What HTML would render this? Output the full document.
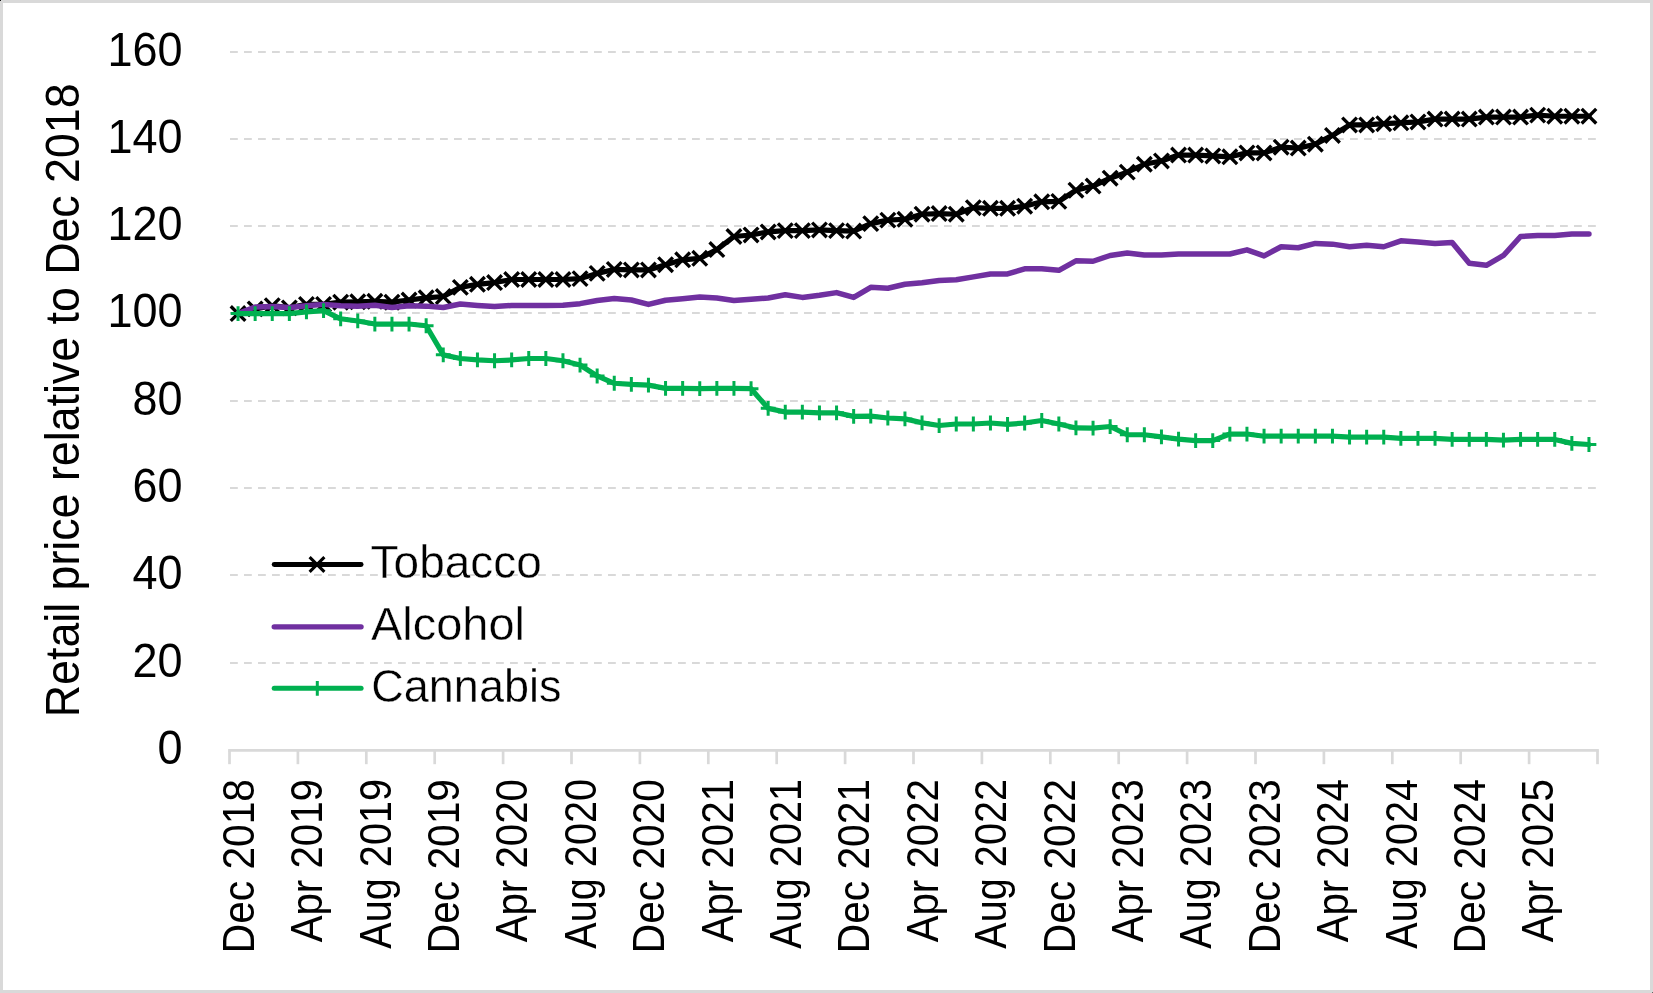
<!DOCTYPE html><html><head><meta charset="utf-8"><style>html,body{margin:0;padding:0;background:#fff}body{width:1653px;height:993px;overflow:hidden}svg{display:block;will-change:transform}text{font-family:"Liberation Sans",sans-serif;fill:#000}</style></head><body>
<svg width="1653" height="993" viewBox="0 0 1653 993">
<rect x="0" y="0" width="1653" height="993" fill="#d9d9d9"/>
<rect x="3" y="3" width="1647" height="987" fill="#fff"/>
<rect x="0" y="0" width="1" height="1" fill="#1a1a1a"/><rect x="1652" y="992" width="1" height="1" fill="#666"/>
<line x1="230" y1="52" x2="1597.5" y2="52" stroke="#d9d9d9" stroke-width="1.9" stroke-dasharray="7.8 6.2"/>
<line x1="230" y1="139.04" x2="1597.5" y2="139.04" stroke="#d9d9d9" stroke-width="1.9" stroke-dasharray="7.8 6.2"/>
<line x1="230" y1="226.04" x2="1597.5" y2="226.04" stroke="#d9d9d9" stroke-width="1.9" stroke-dasharray="7.8 6.2"/>
<line x1="230" y1="313.04" x2="1597.5" y2="313.04" stroke="#d9d9d9" stroke-width="1.9" stroke-dasharray="7.8 6.2"/>
<line x1="230" y1="401.04" x2="1597.5" y2="401.04" stroke="#d9d9d9" stroke-width="1.9" stroke-dasharray="7.8 6.2"/>
<line x1="230" y1="488.04" x2="1597.5" y2="488.04" stroke="#d9d9d9" stroke-width="1.9" stroke-dasharray="7.8 6.2"/>
<line x1="230" y1="575.04" x2="1597.5" y2="575.04" stroke="#d9d9d9" stroke-width="1.9" stroke-dasharray="7.8 6.2"/>
<line x1="230" y1="663.05" x2="1597.5" y2="663.05" stroke="#d9d9d9" stroke-width="1.9" stroke-dasharray="7.8 6.2"/>
<line x1="228.15" y1="750.4" x2="1598.85" y2="750.4" stroke="#d9d9d9" stroke-width="2.7"/>
<line x1="229.5" y1="750.4" x2="229.5" y2="764.2" stroke="#d9d9d9" stroke-width="2.7"/>
<line x1="297.9" y1="750.4" x2="297.9" y2="764.2" stroke="#d9d9d9" stroke-width="2.7"/>
<line x1="366.3" y1="750.4" x2="366.3" y2="764.2" stroke="#d9d9d9" stroke-width="2.7"/>
<line x1="434.7" y1="750.4" x2="434.7" y2="764.2" stroke="#d9d9d9" stroke-width="2.7"/>
<line x1="503.1" y1="750.4" x2="503.1" y2="764.2" stroke="#d9d9d9" stroke-width="2.7"/>
<line x1="571.5" y1="750.4" x2="571.5" y2="764.2" stroke="#d9d9d9" stroke-width="2.7"/>
<line x1="639.9" y1="750.4" x2="639.9" y2="764.2" stroke="#d9d9d9" stroke-width="2.7"/>
<line x1="708.3" y1="750.4" x2="708.3" y2="764.2" stroke="#d9d9d9" stroke-width="2.7"/>
<line x1="776.7" y1="750.4" x2="776.7" y2="764.2" stroke="#d9d9d9" stroke-width="2.7"/>
<line x1="845.1" y1="750.4" x2="845.1" y2="764.2" stroke="#d9d9d9" stroke-width="2.7"/>
<line x1="913.5" y1="750.4" x2="913.5" y2="764.2" stroke="#d9d9d9" stroke-width="2.7"/>
<line x1="981.9" y1="750.4" x2="981.9" y2="764.2" stroke="#d9d9d9" stroke-width="2.7"/>
<line x1="1050.3" y1="750.4" x2="1050.3" y2="764.2" stroke="#d9d9d9" stroke-width="2.7"/>
<line x1="1118.7" y1="750.4" x2="1118.7" y2="764.2" stroke="#d9d9d9" stroke-width="2.7"/>
<line x1="1187.1" y1="750.4" x2="1187.1" y2="764.2" stroke="#d9d9d9" stroke-width="2.7"/>
<line x1="1255.5" y1="750.4" x2="1255.5" y2="764.2" stroke="#d9d9d9" stroke-width="2.7"/>
<line x1="1323.9" y1="750.4" x2="1323.9" y2="764.2" stroke="#d9d9d9" stroke-width="2.7"/>
<line x1="1392.3" y1="750.4" x2="1392.3" y2="764.2" stroke="#d9d9d9" stroke-width="2.7"/>
<line x1="1460.7" y1="750.4" x2="1460.7" y2="764.2" stroke="#d9d9d9" stroke-width="2.7"/>
<line x1="1529.1" y1="750.4" x2="1529.1" y2="764.2" stroke="#d9d9d9" stroke-width="2.7"/>
<line x1="1597.5" y1="750.4" x2="1597.5" y2="764.2" stroke="#d9d9d9" stroke-width="2.7"/>
<text transform="translate(182.5,764) scale(1,1.05)" font-size="45" text-anchor="end">0</text>
<text transform="translate(182.5,676.65) scale(1,1.05)" font-size="45" text-anchor="end">20</text>
<text transform="translate(182.5,588.64) scale(1,1.05)" font-size="45" text-anchor="end">40</text>
<text transform="translate(182.5,501.64) scale(1,1.05)" font-size="45" text-anchor="end">60</text>
<text transform="translate(182.5,414.64) scale(1,1.05)" font-size="45" text-anchor="end">80</text>
<text transform="translate(182.5,326.64) scale(1,1.05)" font-size="45" text-anchor="end">100</text>
<text transform="translate(182.5,239.64) scale(1,1.05)" font-size="45" text-anchor="end">120</text>
<text transform="translate(182.5,152.64) scale(1,1.05)" font-size="45" text-anchor="end">140</text>
<text transform="translate(182.5,65.6) scale(1,1.05)" font-size="45" text-anchor="end">160</text>
<text transform="translate(253.85,779) rotate(-90) scale(0.925,1)" font-size="44" text-anchor="end">Dec 2018</text>
<text transform="translate(322.25,779) rotate(-90) scale(0.915,1)" font-size="44" text-anchor="end">Apr 2019</text>
<text transform="translate(390.65,779) rotate(-90) scale(0.901,1)" font-size="44" text-anchor="end">Aug 2019</text>
<text transform="translate(459.05,779) rotate(-90) scale(0.925,1)" font-size="44" text-anchor="end">Dec 2019</text>
<text transform="translate(527.45,779) rotate(-90) scale(0.915,1)" font-size="44" text-anchor="end">Apr 2020</text>
<text transform="translate(595.85,779) rotate(-90) scale(0.901,1)" font-size="44" text-anchor="end">Aug 2020</text>
<text transform="translate(664.25,779) rotate(-90) scale(0.925,1)" font-size="44" text-anchor="end">Dec 2020</text>
<text transform="translate(732.65,779) rotate(-90) scale(0.915,1)" font-size="44" text-anchor="end">Apr 2021</text>
<text transform="translate(801.05,779) rotate(-90) scale(0.901,1)" font-size="44" text-anchor="end">Aug 2021</text>
<text transform="translate(869.45,779) rotate(-90) scale(0.925,1)" font-size="44" text-anchor="end">Dec 2021</text>
<text transform="translate(937.85,779) rotate(-90) scale(0.915,1)" font-size="44" text-anchor="end">Apr 2022</text>
<text transform="translate(1006.25,779) rotate(-90) scale(0.901,1)" font-size="44" text-anchor="end">Aug 2022</text>
<text transform="translate(1074.65,779) rotate(-90) scale(0.925,1)" font-size="44" text-anchor="end">Dec 2022</text>
<text transform="translate(1143.05,779) rotate(-90) scale(0.915,1)" font-size="44" text-anchor="end">Apr 2023</text>
<text transform="translate(1211.45,779) rotate(-90) scale(0.901,1)" font-size="44" text-anchor="end">Aug 2023</text>
<text transform="translate(1279.85,779) rotate(-90) scale(0.925,1)" font-size="44" text-anchor="end">Dec 2023</text>
<text transform="translate(1348.25,779) rotate(-90) scale(0.915,1)" font-size="44" text-anchor="end">Apr 2024</text>
<text transform="translate(1416.65,779) rotate(-90) scale(0.901,1)" font-size="44" text-anchor="end">Aug 2024</text>
<text transform="translate(1485.05,779) rotate(-90) scale(0.925,1)" font-size="44" text-anchor="end">Dec 2024</text>
<text transform="translate(1553.45,779) rotate(-90) scale(0.915,1)" font-size="44" text-anchor="end">Apr 2025</text>
<text transform="translate(78.7,400.3) rotate(-90) scale(0.932,1)" font-size="48" text-anchor="middle">Retail price relative to Dec 2018</text>
<polyline points="238.05,313.55 255.15,308.88 272.25,305.69 289.35,307.87 306.45,304.38 323.55,304.38 340.65,302.2 357.75,301.76 374.85,301.33 391.95,302.2 409.05,300.02 426.15,297.83 443.25,296.52 460.35,287.36 477.45,284.3 494.55,282.55 511.65,279.5 528.75,279.5 545.85,279.5 562.95,279.5 580.05,278.63 597.15,273.39 614.25,269.46 631.35,269.9 648.45,269.9 665.55,264.66 682.65,259.85 699.75,258.33 716.85,249.6 733.95,236.5 751.05,234.97 768.15,231.92 785.25,230.61 802.35,230.61 819.45,229.95 836.55,230.61 853.65,231.04 870.75,223.62 887.85,220.13 904.95,219.26 922.05,214.23 939.15,213.58 956.25,214.23 973.35,207.69 990.45,208.34 1007.55,208.34 1024.65,206.16 1041.75,201.79 1058.85,201.36 1075.95,190.22 1093.05,186.08 1110.15,178.22 1127.25,172.11 1144.35,164.25 1161.45,160.98 1178.55,155.08 1195.65,155.08 1212.75,155.96 1229.85,156.83 1246.95,152.9 1264.05,152.9 1281.15,147.22 1298.25,148.1 1315.35,144.17 1332.45,135.44 1349.55,124.96 1366.65,124.96 1383.75,123.65 1400.85,122.78 1417.95,121.9 1435.05,119.07 1452.15,119.07 1469.25,119.07 1486.35,117.1 1503.45,117.1 1520.55,117.1 1537.65,115.14 1554.75,116.23 1571.85,116.23 1588.95,116.23" fill="none" stroke="#000" stroke-width="5.2" stroke-linejoin="round" stroke-linecap="round"/>
<path d="M230.75 306.25L245.35 320.85M245.35 306.25L230.75 320.85" stroke="#000" stroke-width="3.35" fill="none"/><path d="M247.85 301.58L262.45 316.18M262.45 301.58L247.85 316.18" stroke="#000" stroke-width="3.35" fill="none"/><path d="M264.95 298.39L279.55 312.99M279.55 298.39L264.95 312.99" stroke="#000" stroke-width="3.35" fill="none"/><path d="M282.05 300.57L296.65 315.17M296.65 300.57L282.05 315.17" stroke="#000" stroke-width="3.35" fill="none"/><path d="M299.15 297.08L313.75 311.68M313.75 297.08L299.15 311.68" stroke="#000" stroke-width="3.35" fill="none"/><path d="M316.25 297.08L330.85 311.68M330.85 297.08L316.25 311.68" stroke="#000" stroke-width="3.35" fill="none"/><path d="M333.35 294.9L347.95 309.5M347.95 294.9L333.35 309.5" stroke="#000" stroke-width="3.35" fill="none"/><path d="M350.45 294.46L365.05 309.06M365.05 294.46L350.45 309.06" stroke="#000" stroke-width="3.35" fill="none"/><path d="M367.55 294.03L382.15 308.63M382.15 294.03L367.55 308.63" stroke="#000" stroke-width="3.35" fill="none"/><path d="M384.65 294.9L399.25 309.5M399.25 294.9L384.65 309.5" stroke="#000" stroke-width="3.35" fill="none"/><path d="M401.75 292.72L416.35 307.32M416.35 292.72L401.75 307.32" stroke="#000" stroke-width="3.35" fill="none"/><path d="M418.85 290.53L433.45 305.13M433.45 290.53L418.85 305.13" stroke="#000" stroke-width="3.35" fill="none"/><path d="M435.95 289.22L450.55 303.82M450.55 289.22L435.95 303.82" stroke="#000" stroke-width="3.35" fill="none"/><path d="M453.05 280.06L467.65 294.66M467.65 280.06L453.05 294.66" stroke="#000" stroke-width="3.35" fill="none"/><path d="M470.15 277L484.75 291.6M484.75 277L470.15 291.6" stroke="#000" stroke-width="3.35" fill="none"/><path d="M487.25 275.25L501.85 289.85M501.85 275.25L487.25 289.85" stroke="#000" stroke-width="3.35" fill="none"/><path d="M504.35 272.2L518.95 286.8M518.95 272.2L504.35 286.8" stroke="#000" stroke-width="3.35" fill="none"/><path d="M521.45 272.2L536.05 286.8M536.05 272.2L521.45 286.8" stroke="#000" stroke-width="3.35" fill="none"/><path d="M538.55 272.2L553.15 286.8M553.15 272.2L538.55 286.8" stroke="#000" stroke-width="3.35" fill="none"/><path d="M555.65 272.2L570.25 286.8M570.25 272.2L555.65 286.8" stroke="#000" stroke-width="3.35" fill="none"/><path d="M572.75 271.33L587.35 285.93M587.35 271.33L572.75 285.93" stroke="#000" stroke-width="3.35" fill="none"/><path d="M589.85 266.09L604.45 280.69M604.45 266.09L589.85 280.69" stroke="#000" stroke-width="3.35" fill="none"/><path d="M606.95 262.16L621.55 276.76M621.55 262.16L606.95 276.76" stroke="#000" stroke-width="3.35" fill="none"/><path d="M624.05 262.6L638.65 277.2M638.65 262.6L624.05 277.2" stroke="#000" stroke-width="3.35" fill="none"/><path d="M641.15 262.6L655.75 277.2M655.75 262.6L641.15 277.2" stroke="#000" stroke-width="3.35" fill="none"/><path d="M658.25 257.36L672.85 271.96M672.85 257.36L658.25 271.96" stroke="#000" stroke-width="3.35" fill="none"/><path d="M675.35 252.55L689.95 267.15M689.95 252.55L675.35 267.15" stroke="#000" stroke-width="3.35" fill="none"/><path d="M692.45 251.03L707.05 265.63M707.05 251.03L692.45 265.63" stroke="#000" stroke-width="3.35" fill="none"/><path d="M709.55 242.3L724.15 256.9M724.15 242.3L709.55 256.9" stroke="#000" stroke-width="3.35" fill="none"/><path d="M726.65 229.2L741.25 243.8M741.25 229.2L726.65 243.8" stroke="#000" stroke-width="3.35" fill="none"/><path d="M743.75 227.67L758.35 242.27M758.35 227.67L743.75 242.27" stroke="#000" stroke-width="3.35" fill="none"/><path d="M760.85 224.62L775.45 239.22M775.45 224.62L760.85 239.22" stroke="#000" stroke-width="3.35" fill="none"/><path d="M777.95 223.31L792.55 237.91M792.55 223.31L777.95 237.91" stroke="#000" stroke-width="3.35" fill="none"/><path d="M795.05 223.31L809.65 237.91M809.65 223.31L795.05 237.91" stroke="#000" stroke-width="3.35" fill="none"/><path d="M812.15 222.65L826.75 237.25M826.75 222.65L812.15 237.25" stroke="#000" stroke-width="3.35" fill="none"/><path d="M829.25 223.31L843.85 237.91M843.85 223.31L829.25 237.91" stroke="#000" stroke-width="3.35" fill="none"/><path d="M846.35 223.74L860.95 238.34M860.95 223.74L846.35 238.34" stroke="#000" stroke-width="3.35" fill="none"/><path d="M863.45 216.32L878.05 230.92M878.05 216.32L863.45 230.92" stroke="#000" stroke-width="3.35" fill="none"/><path d="M880.55 212.83L895.15 227.43M895.15 212.83L880.55 227.43" stroke="#000" stroke-width="3.35" fill="none"/><path d="M897.65 211.96L912.25 226.56M912.25 211.96L897.65 226.56" stroke="#000" stroke-width="3.35" fill="none"/><path d="M914.75 206.93L929.35 221.53M929.35 206.93L914.75 221.53" stroke="#000" stroke-width="3.35" fill="none"/><path d="M931.85 206.28L946.45 220.88M946.45 206.28L931.85 220.88" stroke="#000" stroke-width="3.35" fill="none"/><path d="M948.95 206.93L963.55 221.53M963.55 206.93L948.95 221.53" stroke="#000" stroke-width="3.35" fill="none"/><path d="M966.05 200.39L980.65 214.99M980.65 200.39L966.05 214.99" stroke="#000" stroke-width="3.35" fill="none"/><path d="M983.15 201.04L997.75 215.64M997.75 201.04L983.15 215.64" stroke="#000" stroke-width="3.35" fill="none"/><path d="M1000.25 201.04L1014.85 215.64M1014.85 201.04L1000.25 215.64" stroke="#000" stroke-width="3.35" fill="none"/><path d="M1017.35 198.86L1031.95 213.46M1031.95 198.86L1017.35 213.46" stroke="#000" stroke-width="3.35" fill="none"/><path d="M1034.45 194.49L1049.05 209.09M1049.05 194.49L1034.45 209.09" stroke="#000" stroke-width="3.35" fill="none"/><path d="M1051.55 194.06L1066.15 208.66M1066.15 194.06L1051.55 208.66" stroke="#000" stroke-width="3.35" fill="none"/><path d="M1068.65 182.92L1083.25 197.52M1083.25 182.92L1068.65 197.52" stroke="#000" stroke-width="3.35" fill="none"/><path d="M1085.75 178.78L1100.35 193.38M1100.35 178.78L1085.75 193.38" stroke="#000" stroke-width="3.35" fill="none"/><path d="M1102.85 170.92L1117.45 185.52M1117.45 170.92L1102.85 185.52" stroke="#000" stroke-width="3.35" fill="none"/><path d="M1119.95 164.81L1134.55 179.41M1134.55 164.81L1119.95 179.41" stroke="#000" stroke-width="3.35" fill="none"/><path d="M1137.05 156.95L1151.65 171.55M1151.65 156.95L1137.05 171.55" stroke="#000" stroke-width="3.35" fill="none"/><path d="M1154.15 153.68L1168.75 168.28M1168.75 153.68L1154.15 168.28" stroke="#000" stroke-width="3.35" fill="none"/><path d="M1171.25 147.78L1185.85 162.38M1185.85 147.78L1171.25 162.38" stroke="#000" stroke-width="3.35" fill="none"/><path d="M1188.35 147.78L1202.95 162.38M1202.95 147.78L1188.35 162.38" stroke="#000" stroke-width="3.35" fill="none"/><path d="M1205.45 148.66L1220.05 163.26M1220.05 148.66L1205.45 163.26" stroke="#000" stroke-width="3.35" fill="none"/><path d="M1222.55 149.53L1237.15 164.13M1237.15 149.53L1222.55 164.13" stroke="#000" stroke-width="3.35" fill="none"/><path d="M1239.65 145.6L1254.25 160.2M1254.25 145.6L1239.65 160.2" stroke="#000" stroke-width="3.35" fill="none"/><path d="M1256.75 145.6L1271.35 160.2M1271.35 145.6L1256.75 160.2" stroke="#000" stroke-width="3.35" fill="none"/><path d="M1273.85 139.92L1288.45 154.52M1288.45 139.92L1273.85 154.52" stroke="#000" stroke-width="3.35" fill="none"/><path d="M1290.95 140.8L1305.55 155.4M1305.55 140.8L1290.95 155.4" stroke="#000" stroke-width="3.35" fill="none"/><path d="M1308.05 136.87L1322.65 151.47M1322.65 136.87L1308.05 151.47" stroke="#000" stroke-width="3.35" fill="none"/><path d="M1325.15 128.14L1339.75 142.74M1339.75 128.14L1325.15 142.74" stroke="#000" stroke-width="3.35" fill="none"/><path d="M1342.25 117.66L1356.85 132.26M1356.85 117.66L1342.25 132.26" stroke="#000" stroke-width="3.35" fill="none"/><path d="M1359.35 117.66L1373.95 132.26M1373.95 117.66L1359.35 132.26" stroke="#000" stroke-width="3.35" fill="none"/><path d="M1376.45 116.35L1391.05 130.95M1391.05 116.35L1376.45 130.95" stroke="#000" stroke-width="3.35" fill="none"/><path d="M1393.55 115.48L1408.15 130.08M1408.15 115.48L1393.55 130.08" stroke="#000" stroke-width="3.35" fill="none"/><path d="M1410.65 114.6L1425.25 129.2M1425.25 114.6L1410.65 129.2" stroke="#000" stroke-width="3.35" fill="none"/><path d="M1427.75 111.77L1442.35 126.37M1442.35 111.77L1427.75 126.37" stroke="#000" stroke-width="3.35" fill="none"/><path d="M1444.85 111.77L1459.45 126.37M1459.45 111.77L1444.85 126.37" stroke="#000" stroke-width="3.35" fill="none"/><path d="M1461.95 111.77L1476.55 126.37M1476.55 111.77L1461.95 126.37" stroke="#000" stroke-width="3.35" fill="none"/><path d="M1479.05 109.8L1493.65 124.4M1493.65 109.8L1479.05 124.4" stroke="#000" stroke-width="3.35" fill="none"/><path d="M1496.15 109.8L1510.75 124.4M1510.75 109.8L1496.15 124.4" stroke="#000" stroke-width="3.35" fill="none"/><path d="M1513.25 109.8L1527.85 124.4M1527.85 109.8L1513.25 124.4" stroke="#000" stroke-width="3.35" fill="none"/><path d="M1530.35 107.84L1544.95 122.44M1544.95 107.84L1530.35 122.44" stroke="#000" stroke-width="3.35" fill="none"/><path d="M1547.45 108.93L1562.05 123.53M1562.05 108.93L1547.45 123.53" stroke="#000" stroke-width="3.35" fill="none"/><path d="M1564.55 108.93L1579.15 123.53M1579.15 108.93L1564.55 123.53" stroke="#000" stroke-width="3.35" fill="none"/><path d="M1581.65 108.93L1596.25 123.53M1596.25 108.93L1581.65 123.53" stroke="#000" stroke-width="3.35" fill="none"/>
<polyline points="238.05,313.55 255.15,307 272.25,306.57 289.35,307.44 306.45,305.69 323.55,304.38 340.65,305.69 357.75,306.13 374.85,305.26 391.95,307.44 409.05,305.69 426.15,306.13 443.25,307.44 460.35,303.95 477.45,305.43 494.55,306.57 511.65,305.43 528.75,305.43 545.85,305.43 562.95,305.26 580.05,303.64 597.15,300.45 614.25,298.53 631.35,300.02 648.45,304.38 665.55,300.24 682.65,298.71 699.75,296.96 716.85,298.01 733.95,300.45 751.05,299.14 768.15,298.01 785.25,294.78 802.35,297.4 819.45,295.21 836.55,292.6 853.65,297.4 870.75,287.36 887.85,288.23 904.95,284.3 922.05,282.69 939.15,280.5 956.25,279.8 973.35,276.88 990.45,273.95 1007.55,273.95 1024.65,268.85 1041.75,268.85 1058.85,270.33 1075.95,260.86 1093.05,261.25 1110.15,255.49 1127.25,253.09 1144.35,255.05 1161.45,255.05 1178.55,254 1195.65,254 1212.75,254 1229.85,254 1246.95,249.81 1264.05,255.93 1281.15,246.76 1298.25,247.76 1315.35,243.4 1332.45,244.14 1349.55,246.76 1366.65,245.19 1383.75,246.76 1400.85,240.86 1417.95,241.96 1435.05,243.57 1452.15,242.39 1469.25,263.35 1486.35,265.31 1503.45,255.49 1520.55,236.5 1537.65,235.41 1554.75,235.41 1571.85,234.1 1588.95,234.1" fill="none" stroke="#7030a0" stroke-width="5.5" stroke-linejoin="round" stroke-linecap="round"/>
<polyline points="238.05,313.55 255.15,313.55 272.25,313.55 289.35,313.55 306.45,311.8 323.55,310.63 340.65,318.79 357.75,320.97 374.85,324.03 391.95,324.03 409.05,324.03 426.15,325.77 443.25,354.85 460.35,358.51 477.45,359.96 494.55,360.74 511.65,359.96 528.75,358.51 545.85,358.51 562.95,360.74 580.05,365.06 597.15,375.98 614.25,383.27 631.35,384.4 648.45,385.14 665.55,388.33 682.65,388.33 699.75,388.72 716.85,388.33 733.95,388.33 751.05,388.72 768.15,408.37 785.25,412.08 802.35,412.08 819.45,412.78 836.55,412.78 853.65,416.4 870.75,416.14 887.85,418.02 904.95,418.89 922.05,422.82 939.15,425.53 956.25,424 973.35,424 990.45,422.99 1007.55,424.43 1024.65,422.99 1041.75,420.5 1058.85,424 1075.95,427.93 1093.05,428.14 1110.15,426.53 1127.25,434.74 1144.35,434.74 1161.45,436.92 1178.55,439.15 1195.65,440.59 1212.75,440.59 1229.85,434.04 1246.95,434.04 1264.05,436.22 1281.15,436.22 1298.25,436.22 1315.35,436.22 1332.45,436.22 1349.55,437.09 1366.65,437.09 1383.75,437.09 1400.85,438.4 1417.95,438.4 1435.05,438.4 1452.15,439.45 1469.25,439.45 1486.35,439.45 1503.45,440.15 1520.55,439.41 1537.65,439.41 1554.75,439.41 1571.85,443.38 1588.95,444.52" fill="none" stroke="#00b050" stroke-width="5.2" stroke-linejoin="round" stroke-linecap="round"/>
<path d="M230.65 313.55L245.45 313.55M238.05 306.15L238.05 320.95" stroke="#00b050" stroke-width="3" fill="none"/><path d="M247.75 313.55L262.55 313.55M255.15 306.15L255.15 320.95" stroke="#00b050" stroke-width="3" fill="none"/><path d="M264.85 313.55L279.65 313.55M272.25 306.15L272.25 320.95" stroke="#00b050" stroke-width="3" fill="none"/><path d="M281.95 313.55L296.75 313.55M289.35 306.15L289.35 320.95" stroke="#00b050" stroke-width="3" fill="none"/><path d="M299.05 311.8L313.85 311.8M306.45 304.4L306.45 319.2" stroke="#00b050" stroke-width="3" fill="none"/><path d="M316.15 310.63L330.95 310.63M323.55 303.23L323.55 318.03" stroke="#00b050" stroke-width="3" fill="none"/><path d="M333.25 318.79L348.05 318.79M340.65 311.39L340.65 326.19" stroke="#00b050" stroke-width="3" fill="none"/><path d="M350.35 320.97L365.15 320.97M357.75 313.57L357.75 328.37" stroke="#00b050" stroke-width="3" fill="none"/><path d="M367.45 324.03L382.25 324.03M374.85 316.63L374.85 331.43" stroke="#00b050" stroke-width="3" fill="none"/><path d="M384.55 324.03L399.35 324.03M391.95 316.63L391.95 331.43" stroke="#00b050" stroke-width="3" fill="none"/><path d="M401.65 324.03L416.45 324.03M409.05 316.63L409.05 331.43" stroke="#00b050" stroke-width="3" fill="none"/><path d="M418.75 325.77L433.55 325.77M426.15 318.37L426.15 333.17" stroke="#00b050" stroke-width="3" fill="none"/><path d="M435.85 354.85L450.65 354.85M443.25 347.45L443.25 362.25" stroke="#00b050" stroke-width="3" fill="none"/><path d="M452.95 358.51L467.75 358.51M460.35 351.11L460.35 365.91" stroke="#00b050" stroke-width="3" fill="none"/><path d="M470.05 359.96L484.85 359.96M477.45 352.56L477.45 367.36" stroke="#00b050" stroke-width="3" fill="none"/><path d="M487.15 360.74L501.95 360.74M494.55 353.34L494.55 368.14" stroke="#00b050" stroke-width="3" fill="none"/><path d="M504.25 359.96L519.05 359.96M511.65 352.56L511.65 367.36" stroke="#00b050" stroke-width="3" fill="none"/><path d="M521.35 358.51L536.15 358.51M528.75 351.11L528.75 365.91" stroke="#00b050" stroke-width="3" fill="none"/><path d="M538.45 358.51L553.25 358.51M545.85 351.11L545.85 365.91" stroke="#00b050" stroke-width="3" fill="none"/><path d="M555.55 360.74L570.35 360.74M562.95 353.34L562.95 368.14" stroke="#00b050" stroke-width="3" fill="none"/><path d="M572.65 365.06L587.45 365.06M580.05 357.66L580.05 372.46" stroke="#00b050" stroke-width="3" fill="none"/><path d="M589.75 375.98L604.55 375.98M597.15 368.58L597.15 383.38" stroke="#00b050" stroke-width="3" fill="none"/><path d="M606.85 383.27L621.65 383.27M614.25 375.87L614.25 390.67" stroke="#00b050" stroke-width="3" fill="none"/><path d="M623.95 384.4L638.75 384.4M631.35 377L631.35 391.8" stroke="#00b050" stroke-width="3" fill="none"/><path d="M641.05 385.14L655.85 385.14M648.45 377.74L648.45 392.54" stroke="#00b050" stroke-width="3" fill="none"/><path d="M658.15 388.33L672.95 388.33M665.55 380.93L665.55 395.73" stroke="#00b050" stroke-width="3" fill="none"/><path d="M675.25 388.33L690.05 388.33M682.65 380.93L682.65 395.73" stroke="#00b050" stroke-width="3" fill="none"/><path d="M692.35 388.72L707.15 388.72M699.75 381.32L699.75 396.12" stroke="#00b050" stroke-width="3" fill="none"/><path d="M709.45 388.33L724.25 388.33M716.85 380.93L716.85 395.73" stroke="#00b050" stroke-width="3" fill="none"/><path d="M726.55 388.33L741.35 388.33M733.95 380.93L733.95 395.73" stroke="#00b050" stroke-width="3" fill="none"/><path d="M743.65 388.72L758.45 388.72M751.05 381.32L751.05 396.12" stroke="#00b050" stroke-width="3" fill="none"/><path d="M760.75 408.37L775.55 408.37M768.15 400.97L768.15 415.77" stroke="#00b050" stroke-width="3" fill="none"/><path d="M777.85 412.08L792.65 412.08M785.25 404.68L785.25 419.48" stroke="#00b050" stroke-width="3" fill="none"/><path d="M794.95 412.08L809.75 412.08M802.35 404.68L802.35 419.48" stroke="#00b050" stroke-width="3" fill="none"/><path d="M812.05 412.78L826.85 412.78M819.45 405.38L819.45 420.18" stroke="#00b050" stroke-width="3" fill="none"/><path d="M829.15 412.78L843.95 412.78M836.55 405.38L836.55 420.18" stroke="#00b050" stroke-width="3" fill="none"/><path d="M846.25 416.4L861.05 416.4M853.65 409L853.65 423.8" stroke="#00b050" stroke-width="3" fill="none"/><path d="M863.35 416.14L878.15 416.14M870.75 408.74L870.75 423.54" stroke="#00b050" stroke-width="3" fill="none"/><path d="M880.45 418.02L895.25 418.02M887.85 410.62L887.85 425.42" stroke="#00b050" stroke-width="3" fill="none"/><path d="M897.55 418.89L912.35 418.89M904.95 411.49L904.95 426.29" stroke="#00b050" stroke-width="3" fill="none"/><path d="M914.65 422.82L929.45 422.82M922.05 415.42L922.05 430.22" stroke="#00b050" stroke-width="3" fill="none"/><path d="M931.75 425.53L946.55 425.53M939.15 418.13L939.15 432.93" stroke="#00b050" stroke-width="3" fill="none"/><path d="M948.85 424L963.65 424M956.25 416.6L956.25 431.4" stroke="#00b050" stroke-width="3" fill="none"/><path d="M965.95 424L980.75 424M973.35 416.6L973.35 431.4" stroke="#00b050" stroke-width="3" fill="none"/><path d="M983.05 422.99L997.85 422.99M990.45 415.59L990.45 430.39" stroke="#00b050" stroke-width="3" fill="none"/><path d="M1000.15 424.43L1014.95 424.43M1007.55 417.03L1007.55 431.83" stroke="#00b050" stroke-width="3" fill="none"/><path d="M1017.25 422.99L1032.05 422.99M1024.65 415.59L1024.65 430.39" stroke="#00b050" stroke-width="3" fill="none"/><path d="M1034.35 420.5L1049.15 420.5M1041.75 413.1L1041.75 427.9" stroke="#00b050" stroke-width="3" fill="none"/><path d="M1051.45 424L1066.25 424M1058.85 416.6L1058.85 431.4" stroke="#00b050" stroke-width="3" fill="none"/><path d="M1068.55 427.93L1083.35 427.93M1075.95 420.53L1075.95 435.33" stroke="#00b050" stroke-width="3" fill="none"/><path d="M1085.65 428.14L1100.45 428.14M1093.05 420.74L1093.05 435.54" stroke="#00b050" stroke-width="3" fill="none"/><path d="M1102.75 426.53L1117.55 426.53M1110.15 419.13L1110.15 433.93" stroke="#00b050" stroke-width="3" fill="none"/><path d="M1119.85 434.74L1134.65 434.74M1127.25 427.34L1127.25 442.14" stroke="#00b050" stroke-width="3" fill="none"/><path d="M1136.95 434.74L1151.75 434.74M1144.35 427.34L1144.35 442.14" stroke="#00b050" stroke-width="3" fill="none"/><path d="M1154.05 436.92L1168.85 436.92M1161.45 429.52L1161.45 444.32" stroke="#00b050" stroke-width="3" fill="none"/><path d="M1171.15 439.15L1185.95 439.15M1178.55 431.75L1178.55 446.55" stroke="#00b050" stroke-width="3" fill="none"/><path d="M1188.25 440.59L1203.05 440.59M1195.65 433.19L1195.65 447.99" stroke="#00b050" stroke-width="3" fill="none"/><path d="M1205.35 440.59L1220.15 440.59M1212.75 433.19L1212.75 447.99" stroke="#00b050" stroke-width="3" fill="none"/><path d="M1222.45 434.04L1237.25 434.04M1229.85 426.64L1229.85 441.44" stroke="#00b050" stroke-width="3" fill="none"/><path d="M1239.55 434.04L1254.35 434.04M1246.95 426.64L1246.95 441.44" stroke="#00b050" stroke-width="3" fill="none"/><path d="M1256.65 436.22L1271.45 436.22M1264.05 428.82L1264.05 443.62" stroke="#00b050" stroke-width="3" fill="none"/><path d="M1273.75 436.22L1288.55 436.22M1281.15 428.82L1281.15 443.62" stroke="#00b050" stroke-width="3" fill="none"/><path d="M1290.85 436.22L1305.65 436.22M1298.25 428.82L1298.25 443.62" stroke="#00b050" stroke-width="3" fill="none"/><path d="M1307.95 436.22L1322.75 436.22M1315.35 428.82L1315.35 443.62" stroke="#00b050" stroke-width="3" fill="none"/><path d="M1325.05 436.22L1339.85 436.22M1332.45 428.82L1332.45 443.62" stroke="#00b050" stroke-width="3" fill="none"/><path d="M1342.15 437.09L1356.95 437.09M1349.55 429.69L1349.55 444.49" stroke="#00b050" stroke-width="3" fill="none"/><path d="M1359.25 437.09L1374.05 437.09M1366.65 429.69L1366.65 444.49" stroke="#00b050" stroke-width="3" fill="none"/><path d="M1376.35 437.09L1391.15 437.09M1383.75 429.69L1383.75 444.49" stroke="#00b050" stroke-width="3" fill="none"/><path d="M1393.45 438.4L1408.25 438.4M1400.85 431L1400.85 445.8" stroke="#00b050" stroke-width="3" fill="none"/><path d="M1410.55 438.4L1425.35 438.4M1417.95 431L1417.95 445.8" stroke="#00b050" stroke-width="3" fill="none"/><path d="M1427.65 438.4L1442.45 438.4M1435.05 431L1435.05 445.8" stroke="#00b050" stroke-width="3" fill="none"/><path d="M1444.75 439.45L1459.55 439.45M1452.15 432.05L1452.15 446.85" stroke="#00b050" stroke-width="3" fill="none"/><path d="M1461.85 439.45L1476.65 439.45M1469.25 432.05L1469.25 446.85" stroke="#00b050" stroke-width="3" fill="none"/><path d="M1478.95 439.45L1493.75 439.45M1486.35 432.05L1486.35 446.85" stroke="#00b050" stroke-width="3" fill="none"/><path d="M1496.05 440.15L1510.85 440.15M1503.45 432.75L1503.45 447.55" stroke="#00b050" stroke-width="3" fill="none"/><path d="M1513.15 439.41L1527.95 439.41M1520.55 432.01L1520.55 446.81" stroke="#00b050" stroke-width="3" fill="none"/><path d="M1530.25 439.41L1545.05 439.41M1537.65 432.01L1537.65 446.81" stroke="#00b050" stroke-width="3" fill="none"/><path d="M1547.35 439.41L1562.15 439.41M1554.75 432.01L1554.75 446.81" stroke="#00b050" stroke-width="3" fill="none"/><path d="M1564.45 443.38L1579.25 443.38M1571.85 435.98L1571.85 450.78" stroke="#00b050" stroke-width="3" fill="none"/><path d="M1581.55 444.52L1596.35 444.52M1588.95 437.12L1588.95 451.92" stroke="#00b050" stroke-width="3" fill="none"/>
<line x1="274.2" y1="564.5" x2="361.1" y2="564.5" stroke="#000" stroke-width="4.9" stroke-linecap="round"/>
<path d="M309.6 557.1L324.4 571.9M324.4 557.1L309.6 571.9" stroke="#000" stroke-width="3.1" fill="none"/>
<text transform="translate(370.6,577.8) scale(1.01,1)" font-size="45.5" stroke="#fff" stroke-width="0.4">Tobacco</text>
<line x1="274.2" y1="626.8" x2="361.1" y2="626.8" stroke="#7030a0" stroke-width="5.3" stroke-linecap="round"/>
<text transform="translate(371.0,640.1) scale(1.032,1)" font-size="45.5" stroke="#fff" stroke-width="0.4">Alcohol</text>
<line x1="274.2" y1="688.3" x2="361.1" y2="688.3" stroke="#00b050" stroke-width="5.0" stroke-linecap="round"/>
<path d="M309.9 688.3L324.7 688.3M317.3 680.9L317.3 695.7" stroke="#00b050" stroke-width="3" fill="none"/>
<text transform="translate(371.3,701.6) scale(0.989,1)" font-size="45.5" stroke="#fff" stroke-width="0.4">Cannabis</text>
</svg></body></html>
